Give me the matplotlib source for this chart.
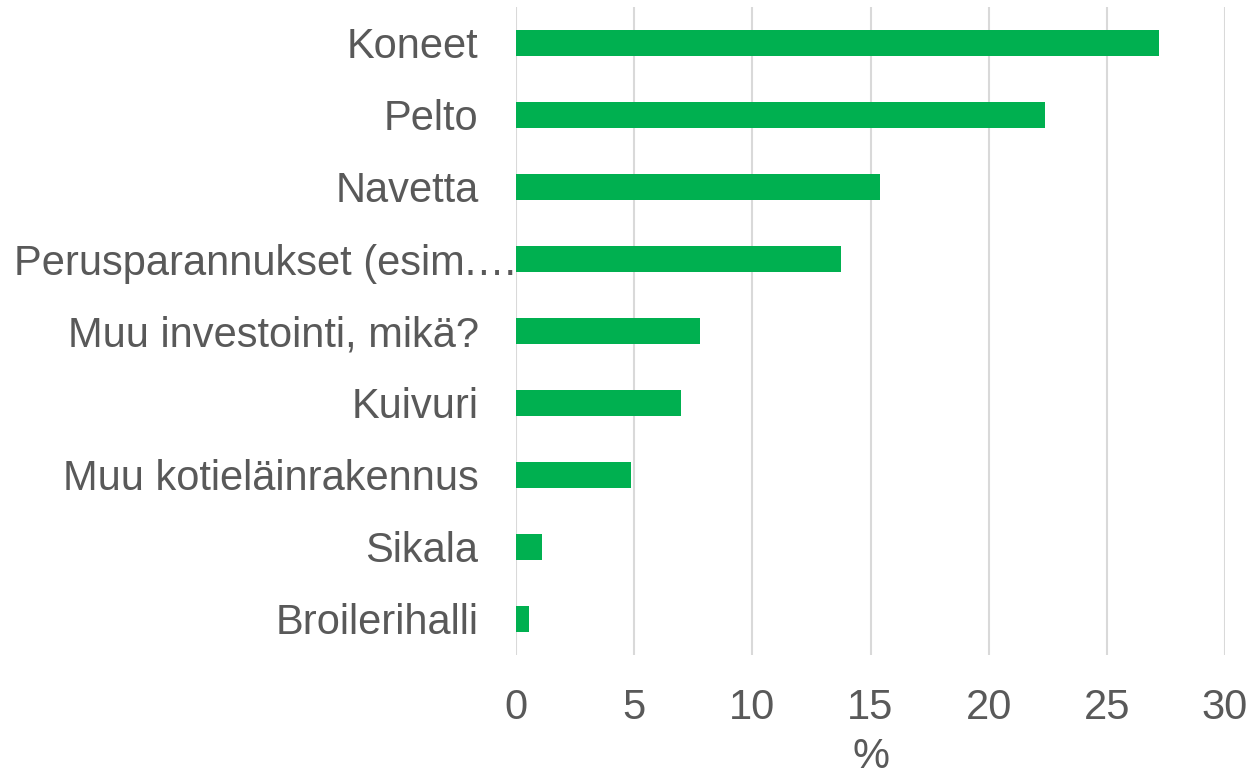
import matplotlib
matplotlib.use("Agg")
import matplotlib.pyplot as plt
from matplotlib.transforms import ScaledTranslation

categories = ["Koneet", "Pelto", "Navetta", "Perusparannukset (esim.…",
              "Muu investointi, mikä?", "Kuivuri", "Muu kotieläinrakennus",
              "Sikala", "Broilerihalli"]
values = [27.2, 22.4, 15.4, 13.75, 7.8, 7.0, 4.85, 1.08, 0.55]
xticks = [0, 5, 10, 15, 20, 25, 30]
xlabel = "%"

plt.rcParams['font.family'] = ['Liberation Sans', 'DejaVu Sans']
txt = '#595959'

fig = plt.figure(figsize=(12.52, 7.76), dpi=100)
ax = fig.add_axes([516/1252, 1 - 655/776, (1225-516)/1252, (655-7)/776])

ypos = list(range(len(categories)))
ax.barh(ypos, values, height=0.35, color='#00B050', zorder=3)
ax.set_ylim(len(categories) - 0.5, -0.5)
ax.set_xlim(0, 30)
ax.set_xticks(xticks)
ax.set_xticklabels([str(t) for t in xticks])
ax.set_yticks(ypos)
ax.set_yticklabels(categories)
ax.grid(axis='x', color='#D9D9D9', linewidth=1.5, zorder=0)
ax.grid(axis='y', visible=False)
for s in ax.spines.values():
    s.set_visible(False)
ax.tick_params(axis='both', length=0, labelsize=30, labelcolor=txt)
ax.tick_params(axis='y', pad=27)
ax.tick_params(axis='x', pad=24)
ax.set_xlabel(xlabel, fontsize=30, color=txt, labelpad=6)

lbl = ax.get_yticklabels()[3]
lbl.set_transform(lbl.get_transform() + ScaledTranslation(39/100, 0, fig.dpi_scale_trans))

fig.savefig("out.png", dpi=100, facecolor='white')
